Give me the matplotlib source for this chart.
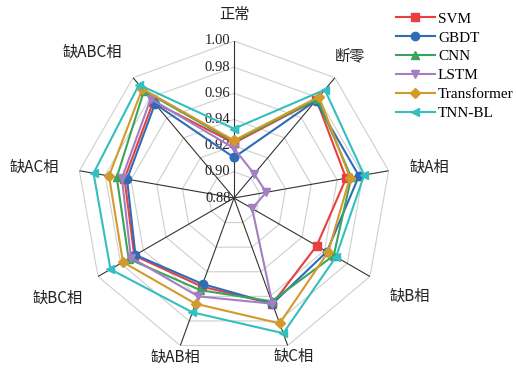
import numpy as np
import matplotlib
matplotlib.use("Agg")
import matplotlib.pyplot as plt

plt.rcParams['font.family'] = ['Liberation Serif', 'Noto Sans CJK SC', 'DejaVu Sans']

categories = ['正常', '断零', '缺A相', '缺B相', '缺C相', '缺AB相', '缺BC相', '缺AC相', '缺ABC相']
svm = [0.922, 0.978, 0.967, 0.953, 0.966, 0.952, 0.968, 0.965, 0.976]
gbdt = [0.911, 0.977, 0.977, 0.962, 0.966, 0.950, 0.967, 0.963, 0.974]
cnn = [0.923, 0.979, 0.971, 0.968, 0.964, 0.955, 0.973, 0.971, 0.987]
lstm = [0.918, 0.904, 0.905, 0.896, 0.966, 0.960, 0.971, 0.967, 0.979]
transformer = [0.924, 0.981, 0.970, 0.963, 0.982, 0.966, 0.978, 0.977, 0.989]
tnn_bl = [0.933, 0.988, 0.981, 0.970, 0.990, 0.973, 0.989, 0.989, 0.993]
tick_values = [0.88, 0.90, 0.92, 0.94, 0.96, 0.98, 1.00]

series = [
    ('SVM', svm, '#E8403F', 's'),
    ('GBDT', gbdt, '#2E6DB6', 'o'),
    ('CNN', cnn, '#3BA45C', '^'),
    ('LSTM', lstm, '#A47EC2', 'v'),
    ('Transformer', transformer, '#D39A2B', 'D'),
    ('TNN-BL', tnn_bl, '#35BEBE', '<'),
]

W, H = 516, 380
fig = plt.figure(figsize=(W / 100, H / 100), dpi=100)
cx, cy, R = 234, 198, 157
ax = fig.add_axes([(cx - R) / W, (H - cy - R) / H, 2 * R / W, 2 * R / H], projection='polar')
ax.set_theta_zero_location('N')
ax.set_theta_direction(-1)
ax.set_ylim(tick_values[0], tick_values[-1])
ax.grid(False)
ax.set_xticks([])
ax.set_yticks([])
ax.spines['polar'].set_visible(False)
ax.patch.set_alpha(0)

n = len(categories)
angles = np.arange(n) * 2 * np.pi / n
closed = np.append(angles, angles[0])

# polygonal rings
for v in tick_values[1:]:
    ax.plot(closed, [v] * (n + 1), color='#CFCFCF', lw=0.8, zorder=1)
# spokes
for a in angles:
    ax.plot([a, a], [tick_values[0], tick_values[-1]], color='#333333', lw=0.8, zorder=2)

# radial tick labels along the top spoke
for v in tick_values:
    ax.annotate(f'{v:.2f}', xy=(0, v), xytext=(-2.5, 0), textcoords='offset points',
                ha='right', va='center', fontsize=10.5, color='#222222',
                family=['Liberation Serif'], zorder=3)

# category labels outside the outer ring
label_offsets = [(0, -27), (15, -21.5), (41, -3), (40, 19.5), (6, 10.5),
                 (-5, 11.5), (-40, 21.5), (-45, -3), (-41, -25)]
for a, lab, (dx, dy) in zip(angles, categories, label_offsets):
    ax.annotate(lab, xy=(a, tick_values[-1]), xytext=(dx * 0.72, -dy * 0.72),
                textcoords='offset points', ha='center', va='center', fontsize=11,
                family=['Noto Sans CJK SC'], color='#222222', annotation_clip=False)

for i, (name, vals, col, mk) in enumerate(series):
    ax.plot(closed, list(vals) + [vals[0]], color=col, lw=1.5, marker=mk,
            markersize=6 if mk != 'D' else 5.5, label=name, zorder=4 + i, clip_on=False)

fig.legend(loc='upper left', bbox_to_anchor=(396 / W, 1 - 12 / H), frameon=False,
           handlelength=2.55, handletextpad=0.2, labelspacing=0.34,
           borderpad=0, borderaxespad=0, prop={'family': 'Liberation Serif', 'size': 11})

fig.savefig('out.png', dpi=100)
